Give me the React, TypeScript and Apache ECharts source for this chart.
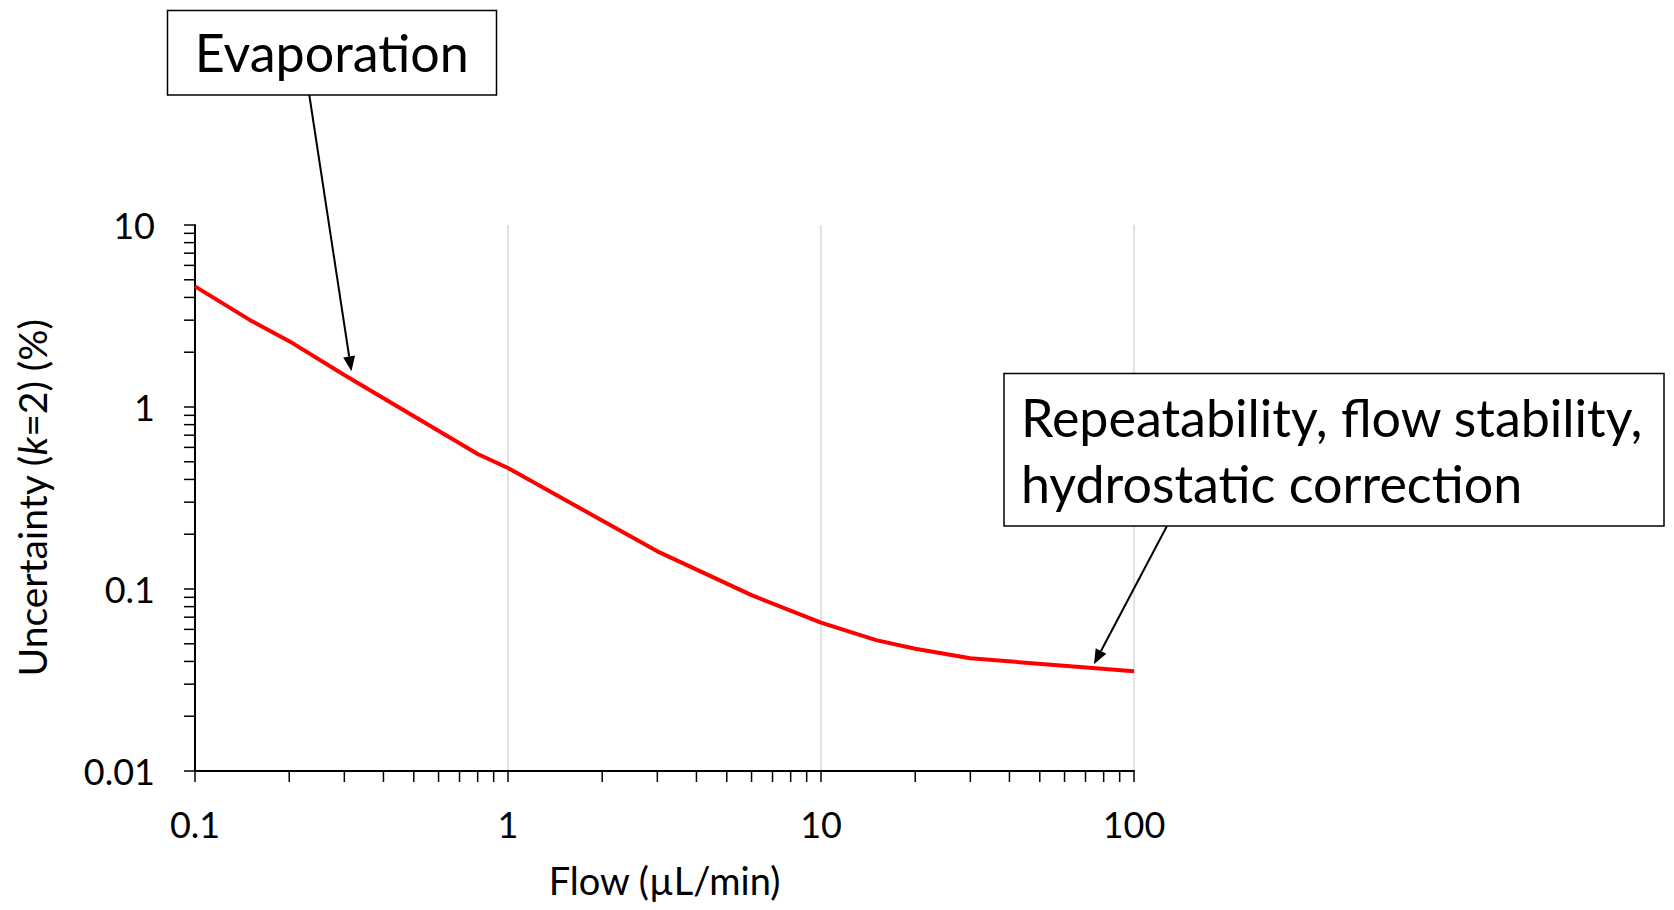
import React, { useEffect, useRef } from 'react';
import * as echarts from 'echarts';

const flow = [0.1, 0.15, 0.2, 0.3, 0.8, 1, 3, 6, 10, 15, 20, 30, 100];
const uncertainty = [4.6, 3.0, 2.3, 1.5, 0.552, 0.462, 0.161, 0.0925, 0.0653, 0.0524, 0.047, 0.0416, 0.0353];

const xTickLabels = ['0.1', '1', '10', '100'];
const yTickLabels = ['0.01', '0.1', '1', '10'];
const xMinorTicks = [0.2, 0.3, 0.4, 0.5, 0.6, 0.7, 0.8, 0.9, 2, 3, 4, 5, 6, 7, 8, 9, 20, 30, 40, 50, 60, 70, 80, 90];
const yMinorTicks = [0.02, 0.03, 0.04, 0.05, 0.06, 0.07, 0.08, 0.09, 0.2, 0.3, 0.4, 0.5, 0.6, 0.7, 0.8, 0.9, 2, 3, 4, 5, 6, 7, 8, 9];

const xTitle = 'Flow (µL/min)';
const evapLabel = 'Evaporation';
const evapTip = [0.316, 1.57];
const repLines = ['Repeatability, flow stability,', 'hydrostatic correction'];
const repTip = [74.5, 0.0386];

const FONT = 'Lato, "Open Sans", sans-serif';

export default function App() {
  const ref = useRef<HTMLDivElement>(null);
  useEffect(() => {
    const chart = echarts.init(ref.current!, null, { renderer: 'svg' });
    const fmt = (labels: string[]) => (v: number) => {
      const s = labels.find((l) => Math.abs(Math.log10(parseFloat(l)) - Math.log10(v)) < 1e-6);
      return s ?? '';
    };
    chart.setOption({
      animation: false,
      backgroundColor: '#ffffff',
      grid: { left: 195, right: 540, top: 225, bottom: 139, containLabel: false },
      xAxis: {
        type: 'log',
        min: 0.1,
        max: 100,
        logBase: 10,
        name: xTitle,
        nameLocation: 'middle',
        nameGap: 90,
        nameTextStyle: { fontSize: 38, fontFamily: FONT, color: '#000' },
        axisLine: { show: true, onZero: false, lineStyle: { color: '#000', width: 2 } },
        axisTick: { show: true, length: 11, inside: false, lineStyle: { color: '#000', width: 1.5 } },
        axisLabel: { formatter: fmt(xTickLabels), fontSize: 36, fontFamily: FONT, color: '#000', margin: 35 },
        splitLine: { show: true, lineStyle: { color: '#d9d9d9', width: 1.5 } },
        minorTick: { show: false },
      },
      yAxis: {
        type: 'log',
        min: 0.01,
        max: 10,
        logBase: 10,
        name: 'Uncertainty ({i|k}=2) (%)',
        nameLocation: 'middle',
        nameRotate: 90,
        nameGap: 144,
        nameTextStyle: {
          fontSize: 39,
          fontFamily: FONT,
          color: '#000',
          rich: { i: { fontStyle: 'italic', fontSize: 39, fontFamily: FONT, color: '#000' } },
        },
        axisLine: { show: true, onZero: false, lineStyle: { color: '#000', width: 2 } },
        axisTick: { show: true, length: 11, inside: false, lineStyle: { color: '#000', width: 1.5 } },
        axisLabel: { formatter: fmt(yTickLabels), fontSize: 36, fontFamily: FONT, color: '#000', margin: 40 },
        splitLine: { show: false },
      },
      series: [
        {
          type: 'custom',
          silent: true,
          clip: false,
          data: xMinorTicks.map((v) => [v, 0.01]),
          renderItem: (params: any, api: any) => {
            const p = api.coord([api.value(0), api.value(1)]);
            return {
              type: 'line',
              shape: { x1: p[0], y1: p[1], x2: p[0], y2: p[1] + 11 },
              style: { stroke: '#000', lineWidth: 1.5 },
            };
          },
          z: 5,
        },
        {
          type: 'custom',
          silent: true,
          clip: false,
          data: yMinorTicks.map((v) => [0.1, v]),
          renderItem: (params: any, api: any) => {
            const p = api.coord([api.value(0), api.value(1)]);
            return {
              type: 'line',
              shape: { x1: p[0] - 11, y1: p[1], x2: p[0], y2: p[1] },
              style: { stroke: '#000', lineWidth: 1.5 },
            };
          },
          z: 5,
        },
        {
          type: 'line',
          data: flow.map((f, i) => [f, uncertainty[i]]),
          showSymbol: false,
          symbol: 'none',
          lineStyle: { color: '#ff0000', width: 4 },
          z: 4,
        },
      ],
    });

    const arrow = (sx: number, sy: number, tx: number, ty: number) => {
      const dx = tx - sx;
      const dy = ty - sy;
      const len = Math.sqrt(dx * dx + dy * dy);
      const ux = dx / len;
      const uy = dy / len;
      const L = 15;
      const W = 6;
      const bx = tx - ux * L;
      const by = ty - uy * L;
      return [
        { type: 'line', shape: { x1: sx, y1: sy, x2: bx, y2: by }, style: { stroke: '#000', lineWidth: 2 }, z: 20 },
        {
          type: 'polygon',
          shape: { points: [[tx, ty], [bx - uy * W, by + ux * W], [bx + uy * W, by - ux * W]] },
          style: { fill: '#000' },
          z: 20,
        },
      ];
    };

    const t1 = chart.convertToPixel({ gridIndex: 0 }, evapTip) as number[];
    const t2 = chart.convertToPixel({ gridIndex: 0 }, repTip) as number[];

    const txt = (text: string, x: number, y: number, align: string) => ({
      type: 'text',
      x,
      y,
      z: 21,
      style: {
        text,
        fontSize: 52,
        fontFamily: FONT,
        fill: '#000',
        align,
        verticalAlign: 'middle',
        textAlign: align,
        textVerticalAlign: 'middle',
      },
    });

    chart.setOption({
      graphic: [
        ...arrow(309.3, 95, t1[0], t1[1]),
        ...arrow(1166.7, 526.5, t2[0], t2[1]),
        {
          type: 'rect',
          shape: { x: 167.5, y: 10.5, width: 329, height: 84.5 },
          style: { fill: '#fff', stroke: '#000', lineWidth: 1.5 },
          z: 20,
        },
        txt(evapLabel, 331.7, 52, 'center'),
        {
          type: 'rect',
          shape: { x: 1004, y: 373.5, width: 660, height: 152.5 },
          style: { fill: '#fff', stroke: '#000', lineWidth: 1.5 },
          z: 20,
        },
        txt(repLines[0], 1021, 417, 'left'),
        txt(repLines[1], 1021, 483, 'left'),
      ],
    });

    return () => chart.dispose();
  }, []);
  return <div ref={ref} style={{ position: 'absolute', left: 0, top: 0, width: 1674, height: 910 }} />;
}
